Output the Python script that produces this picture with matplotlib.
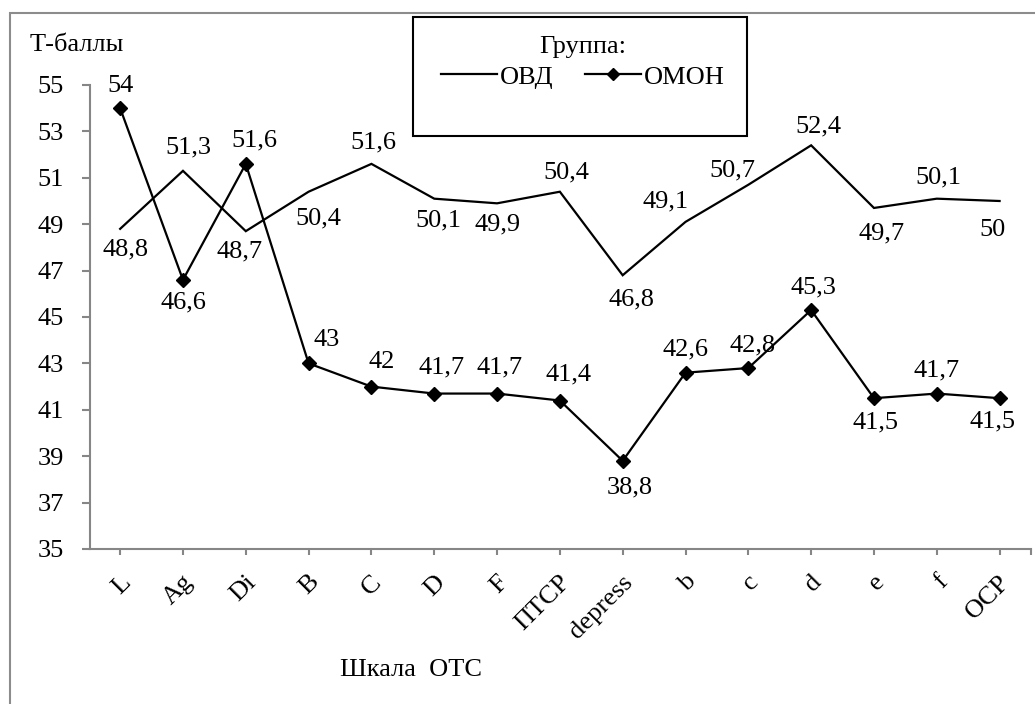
import matplotlib
matplotlib.use("Agg")
import matplotlib.pyplot as plt
from matplotlib.patches import Rectangle
from matplotlib.transforms import ScaledTranslation

plt.rcParams['font.family'] = ['Liberation Serif', 'DejaVu Serif']

# Scales of the questionnaire
categories = ["L", "Ag", "Di", "B", "C", "D", "F", "ПТСР", "depress",
              "b", "c", "d", "e", "f", "ОСР"]

# Mean T-scores per group
ovd = [48.8, 51.3, 48.7, 50.4, 51.6, 50.1, 49.9, 50.4, 46.8,
       49.1, 50.7, 52.4, 49.7, 50.1, 50.0]
omon = [54.0, 46.6, 51.6, 43.0, 42.0, 41.7, 41.7, 41.4, 38.8,
        42.6, 42.8, 45.3, 41.5, 41.7, 41.5]

series_names = ["ОВД", "ОМОН"]
y_ticks = list(range(35, 56, 2))

# Label offsets in pixels (dx, dy) relative to each point, dy upwards
ovd_off = [(5, -21), (5, 23), (-6, -20), (10, -27), (2, 21), (4, -22),
           (1, -21), (6, 19), (9, -24), (-20, 20), (-16, 14), (7, 19),
           (8, -25), (2, 21), (-7, -29)]
omon_off = [(0, 22), (0, -23), (9, 23), (18, 23), (10, 25), (7, 26),
            (3, 26), (9, 26), (7, -27), (0, 23), (4, 23), (2, 23),
            (2, -24), (0, 23), (-7, -23)]

W, H, DPI = 1035, 704, 100
fig = plt.figure(figsize=(W / DPI, H / DPI), dpi=DPI)
fig.patch.set_facecolor("white")

left, right, bottom, top = 90 / W, 1031 / W, 1 - 549 / H, 1 - 85 / H
ax = fig.add_axes([left, bottom, right - left, top - bottom])

x = list(range(len(categories)))
fs = 19

l1, = ax.plot(x, ovd, color="black", lw=1.6, solid_joinstyle="miter")
l2, = ax.plot(x, omon, color="black", lw=1.6, marker="D", markersize=7,
              markerfacecolor="black", markeredgecolor="black")

def fmt(v):
    s = ("%.1f" % v).rstrip("0").rstrip(".")
    return s.replace(".", ",")

for xi, v, (dx, dy) in zip(x, ovd, ovd_off):
    ax.annotate(fmt(v), (xi, v), xytext=(dx, dy), textcoords="offset pixels",
                ha="center", va="center", fontsize=fs)
for xi, v, (dx, dy) in zip(x, omon, omon_off):
    ax.annotate(fmt(v), (xi, v), xytext=(dx, dy), textcoords="offset pixels",
                ha="center", va="center", fontsize=fs)

ax.set_xlim(-0.48, 14.5)
ax.set_ylim(35, 55)
ax.set_yticks(y_ticks)
ax.set_yticklabels([str(t) for t in y_ticks], fontsize=fs)
ax.set_xticks(x + [14.5])
ax.set_xticklabels(categories + [""], fontsize=fs, rotation=45,
                   ha="right", va="center", rotation_mode="anchor")

spine_col = "#868686"
for side in ("top", "right"):
    ax.spines[side].set_visible(False)
for side in ("left", "bottom"):
    ax.spines[side].set_color(spine_col)
    ax.spines[side].set_linewidth(1.5)
ax.tick_params(axis="y", direction="out", length=6, width=1.5,
               color=spine_col, pad=13)
ax.tick_params(axis="x", direction="out", length=4.5, width=1.5,
               color=spine_col, pad=17)
shift = ScaledTranslation(7 / DPI, 0, fig.dpi_scale_trans)
for lab in ax.get_xticklabels():
    lab.set_transform(lab.get_transform() + shift)

# Axis captions
fig.text(30 / W, 1 - 45 / H, "Т-баллы", fontsize=fs, ha="left", va="center")
fig.text(340 / W, 1 - 670 / H, "Шкала  ОТС", fontsize=fs, ha="left", va="center")

# Legend with box
leg = fig.legend([l1, l2], series_names, title="Группа:", ncol=2,
                 loc="upper center", bbox_to_anchor=(583 / W, 1 - 23 / H),
                 frameon=False, fontsize=fs, title_fontsize=fs,
                 handlelength=2.1, handletextpad=0.12, columnspacing=1.2,
                 borderpad=0, labelspacing=0.2, markerscale=0.85)
leg._legend_box.sep = 5
fig.add_artist(Rectangle((413 / W, 1 - 136 / H), (747 - 413) / W,
                         (136 - 17) / H, transform=fig.transFigure,
                         fill=False, edgecolor="black", lw=1.5))

# Outer frame
fig.add_artist(Rectangle((10 / W, -0.2), 1.2, 1.2 - 13 / H,
                         transform=fig.transFigure, fill=False,
                         edgecolor="#8c8c8c", lw=1.5))

fig.savefig("out.png", dpi=DPI)
